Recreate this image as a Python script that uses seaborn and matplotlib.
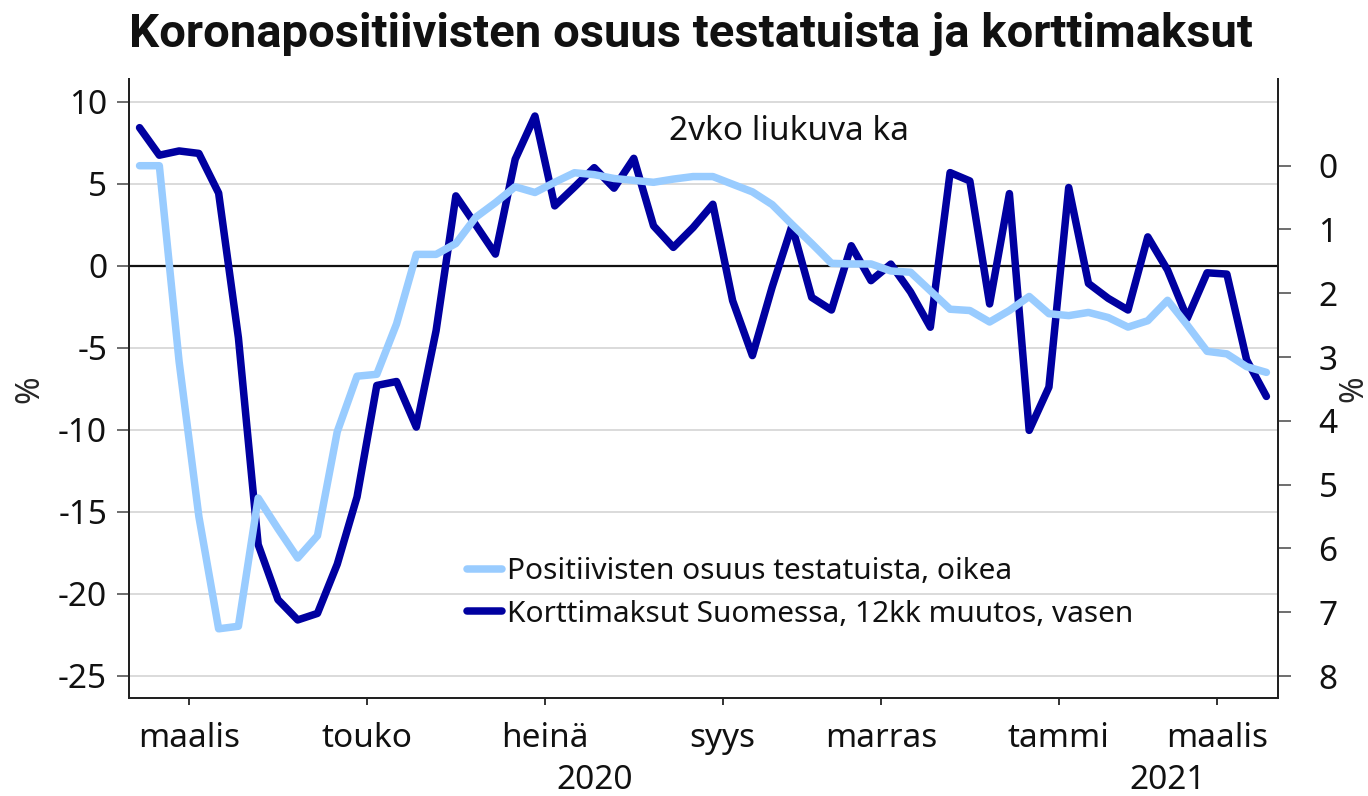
import numpy as np
import matplotlib
matplotlib.use("Agg")
import matplotlib.pyplot as plt
import seaborn as sns

# weekly observations, Feb 2020 - Mar 2021
card_change = [8.42, 6.74, 7.0, 6.85, 4.43, -4.39, -17.0, -20.36, -21.6, -21.2,
               -18.2, -14.1, -7.3, -7.06, -9.84, -3.96, 4.26, 2.5, 0.71, 6.49,
               9.13, 3.65, 4.8, 5.98, 4.73, 6.55, 2.43, 1.12, 2.33, 3.75,
               -2.13, -5.48, -1.3, 2.43, -1.93, -2.7, 1.22, -0.91, 0.1, -1.6,
               -3.75, 5.68, 5.17, -2.33, 4.4, -10.04, -7.4, 4.77, -1.08, -1.99,
               -2.7, 1.76, -0.26, -3.2, -0.43, -0.51, -5.74, -7.97]
positive_share = [0.0, 0.0, 3.07, 5.5, 7.26, 7.22, 5.21, 5.69, 6.15, 5.8,
                  4.17, 3.3, 3.27, 2.48, 1.39, 1.39, 1.22, 0.81, 0.58, 0.33,
                  0.42, 0.26, 0.11, 0.14, 0.2, 0.23, 0.26, 0.21, 0.17, 0.17,
                  0.29, 0.41, 0.61, 0.92, 1.22, 1.53, 1.54, 1.54, 1.65, 1.67,
                  1.96, 2.25, 2.27, 2.45, 2.27, 2.05, 2.32, 2.35, 2.3, 2.38,
                  2.53, 2.43, 2.11, 2.5, 2.91, 2.95, 3.15, 3.24]
week = np.arange(len(card_change))

month_labels = ["maalis", "touko", "heinä", "syys", "marras", "tammi", "maalis"]
month_pos = [2.5, 11.5, 20.5, 29.5, 37.5, 46.5, 54.5]
year_labels = ["2020", "2021"]
year_pos = [23.0, 52.0]

label_card = "Korttimaksut Suomessa, 12kk muutos, vasen"
label_pos = "Positiivisten osuus testatuista, oikea"

dark = "#0000a0"
light = "#99ccff"

sns.set_style("white")
plt.rcParams["font.family"] = ["Noto Sans", "DejaVu Sans"]
plt.rcParams["text.color"] = "#111111"

fig = plt.figure(figsize=(13.68, 7.96), dpi=100)
ax = fig.add_axes([0.0945, 0.1227, 0.8399, 0.7777])
ax2 = ax.twinx()

sns.lineplot(x=week, y=card_change, ax=ax, color=dark, linewidth=5.4)
sns.lineplot(x=week, y=positive_share, ax=ax2, color=light, linewidth=5.4)

ax.set_xlim(-0.52, 57.6)
ax.set_ylim(-26.38, 11.37)
ax2.set_ylim(8.35, -1.355)

ax.set_yticks(range(-25, 11, 5))
ax.set_yticklabels([str(v) for v in range(-25, 11, 5)])
ax2.set_yticks(range(0, 9))

ax.grid(axis="y", color="#d4d4d4", linewidth=1.2)
ax.grid(axis="x", visible=False)
ax.axhline(0, color="#111111", linewidth=1.6, zorder=1.5)

for a in (ax, ax2):
    a.spines["top"].set_visible(False)
    for s in ("left", "right", "bottom"):
        a.spines[s].set_color("#222222")
        a.spines[s].set_linewidth(1.4)

ax.tick_params(axis="y", left=True, length=9, width=1.2, color="#555555",
               labelsize=24, pad=7, labelcolor="#111111")
ax2.tick_params(axis="y", right=True, length=9, width=1.2, color="#555555",
                labelsize=24, pad=20, labelcolor="#111111")

ax.set_xticks(month_pos)
ax.set_xticklabels(month_labels)
ax.tick_params(axis="x", bottom=True, length=5, width=1.4, color="#333333",
               labelsize=24, pad=12, labelcolor="#111111")
ax.set_xticks([46.5], minor=True)
ax.tick_params(axis="x", which="minor", bottom=True, length=12, width=1.4,
               color="#333333")

for yl, yp in zip(year_labels, year_pos):
    ax.text(yp, -0.133, yl, transform=ax.get_xaxis_transform(), ha="center",
            va="center", fontsize=24)

ax.set_ylabel("%", fontsize=24, labelpad=8)
ax2.set_ylabel("%", fontsize=23, labelpad=0)
ax.set_xlabel("")

ax.text(26.8, 8.2, "2vko liukuva ka", fontsize=24, ha="left", va="center")

h_dark = ax.get_lines()[0]
h_light = ax2.get_lines()[0]
ax2.legend([h_light, h_dark], [label_pos, label_card], loc="upper left",
           bbox_to_anchor=(0.2836, 0.247), frameon=False, fontsize=21.5,
           handlelength=1.17, handletextpad=0.17, labelspacing=0.45,
           borderaxespad=0)

fig.suptitle("Koronapositiivisten osuus testatuista ja korttimaksut",
             fontsize=34, fontweight="bold", family=["Roboto", "DejaVu Sans"],
             x=0.505, y=0.985)

fig.savefig("out.png", dpi=100)
